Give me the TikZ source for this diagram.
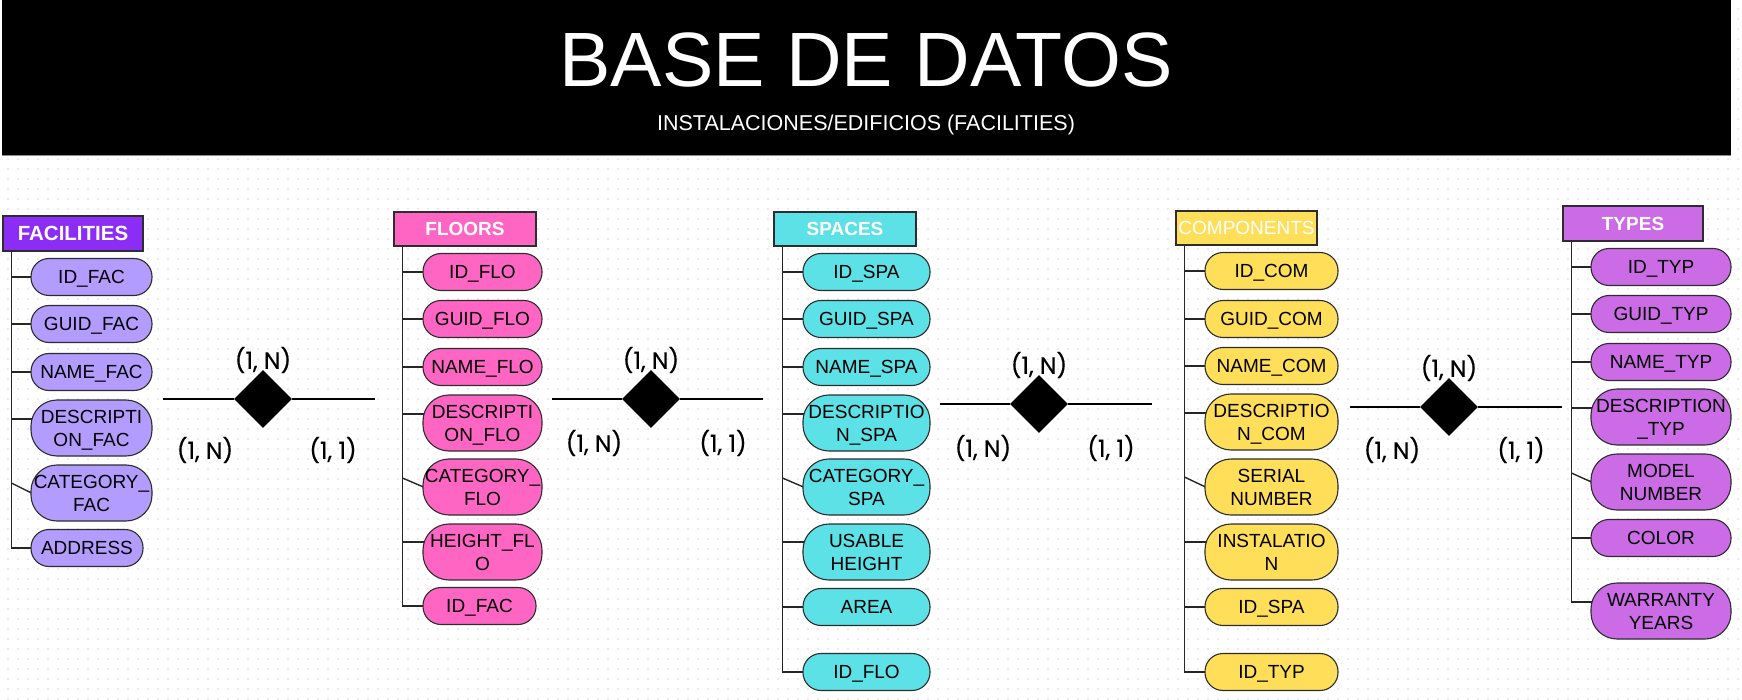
\documentclass[tikz,border=0pt]{standalone}
\usepackage{fontspec}
\setmainfont{Liberation Sans}
\newfontfamily\popfont[FakeBold=0.6]{Poppins}
\usetikzlibrary{shapes.geometric,backgrounds,calc}
\definecolor{facH}{RGB}{140,45,245}
\definecolor{facA}{RGB}{178,157,255}
\definecolor{floC}{RGB}{255,102,196}
\definecolor{spaC}{RGB}{92,225,230}
\definecolor{comC}{RGB}{255,222,89}
\definecolor{typC}{RGB}{203,108,230}
\definecolor{edgec}{RGB}{45,45,45}
\definecolor{dotc}{RGB}{236,236,236}
\tikzset{
 hdr/.style={draw=edgec, line width=1.2pt, minimum height=35pt, inner sep=0pt, text=white, font=\fontsize{19}{22}\selectfont\bfseries},
 attr/.style={draw=edgec, line width=1.1pt, rounded corners=18pt, minimum height=37pt, inner sep=0pt, text=black, font=\fontsize{19}{23}\selectfont, align=center, text height=13.7pt, text depth=0pt},
 attrtwo/.style={attr, rounded corners=26pt, minimum height=56pt, text height=36.7pt},
 conn/.style={draw=black!85, line width=1.4pt},
 rel/.style={draw=black, line width=1.3pt},
 diam/.style={diamond, fill=black, inner sep=0pt, minimum width=58pt, minimum height=58pt, aspect=1},
 card/.style={font=\popfont\fontsize{23.5}{26}\selectfont, inner sep=0pt, text=black},
}
\newcommand\attconn[3]{\draw[conn] ($(#1 |- #2.west)+(0,-#3)$) -- ($(#2.west)+(4,-#3)$);}
\newcommand\diagconn[3]{\draw[conn] ($(#1 |- #2.west)+(0,-#3)$) -- ($(#2.west)+(1,0)$);}
\begin{document}
\begin{tikzpicture}[x=1pt,y=-1pt]
\useasboundingbox (0,0) rectangle (1742,700);
\begin{scope}[on background layer]
\fill[white] (0,0) rectangle (1742,700);
\foreach \yy in {9,19,...,699}
  \draw[dotc, line width=2pt, dash pattern=on 2pt off 8pt, dash phase=3pt] (0,\yy) -- (1742,\yy);
\end{scope}
% banner
\fill[black] (2,0) rectangle (1731,155);
\draw[black!45, line width=1pt] (2,155.5) -- (1731,155.5);
\node[text=white, font=\fontsize{77}{80}\selectfont, anchor=base, inner sep=0pt] (title) at (866,87) {BASE DE DATOS};
\node[text=white, font=\fontsize{21.5}{24}\selectfont, anchor=base, inner sep=0pt] (sub) at (866,131) {INSTALACIONES/EDIFICIOS (FACILITIES)};

% FACILITIES
\node[hdr, fill=facH, minimum width=140pt, font=\fontsize{20.5}{22}\selectfont\bfseries] (fach) at (73,233.5) {FACILITIES};
\coordinate (facv) at ($(fach.south west)+(9,0)$);
\node[attr, fill=facA, minimum width=121pt] (fa1) at (91.5,277) {ID\_FAC};
\node[attr, fill=facA, minimum width=121pt] (fa2) at (91.5,324) {GUID\_FAC};
\node[attr, fill=facA, minimum width=121pt] (fa3) at (91.5,372) {NAME\_FAC};
\node[attrtwo, fill=facA, minimum width=121pt] (fa4) at (91.5,428) {DESCRIPTI\\ON\_FAC};
\node[attrtwo, fill=facA, minimum width=121pt] (fa5) at (91.5,493) {CATEGORY\_\\FAC};
\node[attr, fill=facA, minimum width=112pt] (fa6) at (87,548) {ADDRESS};

% FLOORS
\node[hdr, fill=floC, minimum width=142pt, minimum height=34pt] (floh) at (465,229) {FLOORS};
\coordinate (flov) at ($(floh.south west)+(9,0)$);
\node[attr, fill=floC, minimum width=119pt] (fl1) at (482.5,272) {ID\_FLO};
\node[attr, fill=floC, minimum width=119pt] (fl2) at (482.5,319) {GUID\_FLO};
\node[attr, fill=floC, minimum width=119pt] (fl3) at (482.5,367) {NAME\_FLO};
\node[attrtwo, fill=floC, minimum width=119pt] (fl4) at (482.5,423) {DESCRIPTI\\ON\_FLO};
\node[attrtwo, fill=floC, minimum width=119pt] (fl5) at (482.5,487) {CATEGORY\_\\FLO};
\node[attrtwo, fill=floC, minimum width=119pt] (fl6) at (482.5,552) {HEIGHT\_FL\\O};
\node[attr, fill=floC, minimum width=113pt] (fl7) at (479.5,606) {ID\_FAC};

% SPACES
\node[hdr, fill=spaC, minimum width=142pt, minimum height=34pt] (spah) at (845,229) {SPACES};
\coordinate (spav) at ($(spah.south west)+(9,0)$);
\node[attr, fill=spaC, minimum width=127pt] (sp1) at (866.5,272) {ID\_SPA};
\node[attr, fill=spaC, minimum width=127pt] (sp2) at (866.5,319) {GUID\_SPA};
\node[attr, fill=spaC, minimum width=127pt] (sp3) at (866.5,367) {NAME\_SPA};
\node[attrtwo, fill=spaC, minimum width=127pt] (sp4) at (866.5,423) {DESCRIPTIO\\N\_SPA};
\node[attrtwo, fill=spaC, minimum width=127pt] (sp5) at (866.5,487) {CATEGORY\_\\SPA};
\node[attrtwo, fill=spaC, minimum width=127pt] (sp6) at (866.5,552) {USABLE\\HEIGHT};
\node[attr, fill=spaC, minimum width=127pt] (sp7) at (866.5,607) {AREA};
\node[attr, fill=spaC, minimum width=127pt] (sp8) at (866.5,672) {ID\_FLO};

% COMPONENTS
\node[hdr, fill=comC, minimum width=141pt, minimum height=34pt, font=\fontsize{19}{22}\selectfont] (comh) at (1246.5,228) {COMPONENTS};
\coordinate (comv) at ($(comh.south west)+(9,0)$);
\node[attr, fill=comC, minimum width=133pt] (co1) at (1271.5,271) {ID\_COM};
\node[attr, fill=comC, minimum width=133pt] (co2) at (1271.5,319) {GUID\_COM};
\node[attr, fill=comC, minimum width=133pt] (co3) at (1271.5,366) {NAME\_COM};
\node[attrtwo, fill=comC, minimum width=133pt] (co4) at (1271.5,422) {DESCRIPTIO\\N\_COM};
\node[attrtwo, fill=comC, minimum width=133pt] (co5) at (1271.5,487) {SERIAL\\NUMBER};
\node[attrtwo, fill=comC, minimum width=133pt] (co6) at (1271.5,552) {INSTALATIO\\N};
\node[attr, fill=comC, minimum width=133pt] (co7) at (1271.5,607) {ID\_SPA};
\node[attr, fill=comC, minimum width=133pt] (co8) at (1271.5,672) {ID\_TYP};

% TYPES
\node[hdr, fill=typC, minimum width=140pt] (typh) at (1633,223.5) {TYPES};
\coordinate (typv) at ($(typh.south west)+(9,0)$);
\node[attr, fill=typC, minimum width=140pt] (ty1) at (1661,267) {ID\_TYP};
\node[attr, fill=typC, minimum width=140pt] (ty2) at (1661,314) {GUID\_TYP};
\node[attr, fill=typC, minimum width=140pt] (ty3) at (1661,362) {NAME\_TYP};
\node[attrtwo, fill=typC, minimum width=140pt] (ty4) at (1661,417) {DESCRIPTION\\\_TYP};
\node[attrtwo, fill=typC, minimum width=140pt] (ty5) at (1661,482) {MODEL\\NUMBER};
\node[attr, fill=typC, minimum width=140pt] (ty6) at (1661,538) {COLOR};
\node[attrtwo, fill=typC, minimum width=140pt] (ty7) at (1661,611) {WARRANTY\\YEARS};

% connectors of attributes
\begin{scope}[on background layer]
\draw[conn] (facv) -- (facv |- fa6.west);
\attconn{facv}{fa1}{0}\attconn{facv}{fa2}{0}\attconn{facv}{fa3}{0}
\attconn{facv}{fa4}{9}\diagconn{facv}{fa5}{10}\attconn{facv}{fa6}{0}

\draw[conn] (flov) -- (flov |- fl7.west);
\attconn{flov}{fl1}{0}\attconn{flov}{fl2}{0}\attconn{flov}{fl3}{0}
\attconn{flov}{fl4}{9}\diagconn{flov}{fl5}{9}\attconn{flov}{fl6}{10}\attconn{flov}{fl7}{0}

\draw[conn] (spav) -- (spav |- sp8.west);
\attconn{spav}{sp1}{0}\attconn{spav}{sp2}{0}\attconn{spav}{sp3}{0}
\attconn{spav}{sp4}{9}\diagconn{spav}{sp5}{9}\attconn{spav}{sp6}{10}\attconn{spav}{sp7}{0}\attconn{spav}{sp8}{0}

\draw[conn] (comv) -- (comv |- co8.west);
\attconn{comv}{co1}{0}\attconn{comv}{co2}{0}\attconn{comv}{co3}{0}
\attconn{comv}{co4}{9}\diagconn{comv}{co5}{10}\attconn{comv}{co6}{10}\attconn{comv}{co7}{0}\attconn{comv}{co8}{0}

\draw[conn] (typv) -- ($(typv |- ty7.west)+(0,-9)$);
\attconn{typv}{ty1}{0}\attconn{typv}{ty2}{0}\attconn{typv}{ty3}{0}
\attconn{typv}{ty4}{9}\diagconn{typv}{ty5}{9}\attconn{typv}{ty6}{0}\attconn{typv}{ty7}{9}
\end{scope}

% relationships
\coordinate (r1a) at (163,399); \coordinate (r1b) at (375,399);
\node[diam] (d1) at (263,399) {};
\draw[rel] (r1a) -- (d1) -- (r1b);
\node[card] (c1t) at (263,360) {(1, N)};
\node[card] (c1l) at (205,450) {(1, N)};
\node[card] (c1r) at (333,450) {(1, 1)};

\coordinate (r2a) at (552,399); \coordinate (r2b) at (763,399);
\node[diam] (d2) at (651,399) {};
\draw[rel] (r2a) -- (d2) -- (r2b);
\node[card] (c2t) at (651,360) {(1, N)};
\node[card] (c2l) at (594,443) {(1, N)};
\node[card] (c2r) at (723,443) {(1, 1)};

\coordinate (r3a) at (940,404); \coordinate (r3b) at (1152,404);
\node[diam] (d3) at (1039,404) {};
\draw[rel] (r3a) -- (d3) -- (r3b);
\node[card] (c3t) at (1039,365) {(1, N)};
\node[card] (c3l) at (983,448) {(1, N)};
\node[card] (c3r) at (1111,448) {(1, 1)};

\coordinate (r4a) at (1350,407); \coordinate (r4b) at (1562,407);
\node[diam] (d4) at (1449,407) {};
\draw[rel] (r4a) -- (d4) -- (r4b);
\node[card] (c4t) at (1449,368) {(1, N)};
\node[card] (c4l) at (1392,450) {(1, N)};
\node[card] (c4r) at (1521,450) {(1, 1)};
\end{tikzpicture}
\end{document}
